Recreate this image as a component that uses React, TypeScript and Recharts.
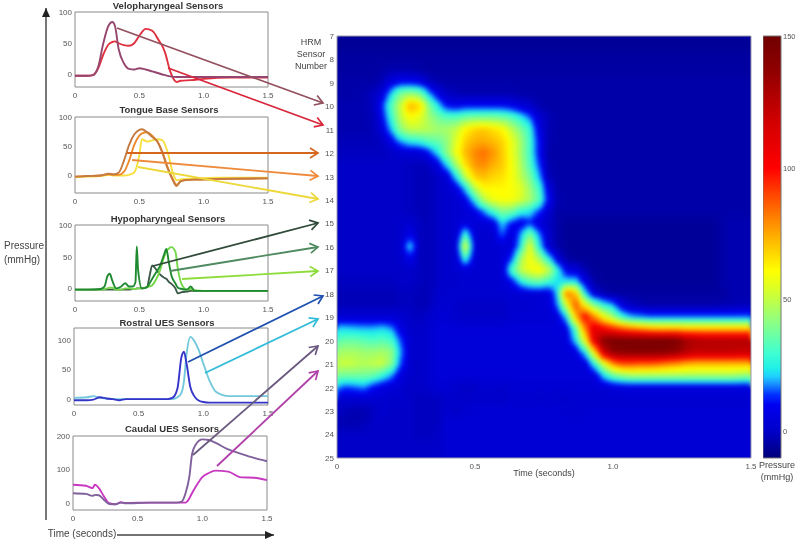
import React from 'react';
import { LineChart, Line, XAxis, YAxis, ReferenceArea, ScatterChart, Scatter } from 'recharts';

const FONT = '"Liberation Sans", Arial, sans-serif';
const timeTicks = [0, 0.5, 1, 1.5];
const timeLabels: Record<number, string> = { 0: '0', 0.5: '0.5', 1: '1.0', 1.5: '1.5' };

// velopharyngeal sensors
const veloTime = [0, 0.1, 0.14, 0.18, 0.22, 0.26, 0.29, 0.31, 0.34, 0.38, 0.42, 0.46, 0.5, 0.55, 0.6, 0.65, 0.68, 0.7, 0.74, 0.79, 0.82, 0.9, 1.0, 1.2, 1.5];
const sensor10 = [-2, -2, -1, 12, 50, 78, 84, 78, 40, 18, 9, 8, 10, 8, 5, 2, 0, -1, -3, -4, -4, -4, -4, -4, -4];
const sensor11 = [-2, -2, -1, 10, 32, 48, 52, 53, 50, 47, 46, 50, 62, 73, 70, 55, 45, 35, 5, -12, -10, -9, -7, -5, -5];

// tongue base sensors
const tongueTime = [0, 0.1, 0.2, 0.26, 0.3, 0.34, 0.38, 0.42, 0.46, 0.5, 0.52, 0.56, 0.6, 0.64, 0.68, 0.72, 0.76, 0.79, 0.82, 0.86, 0.95, 1.1, 1.5];
const sensor12 = [-2, -1, 0, 3, 2, 5, 25, 52, 70, 78, 79, 74, 66, 58, 38, 12, -8, -18, -10, -8, -7, -6, -5];
const sensor13 = [-2, -1, 0, 2, 1, 1, 6, 25, 52, 68, 72, 74, 68, 58, 40, 14, -6, -16, -10, -8, -7, -6, -5];
const sensor14 = [-3, -2, -1, 1, 0, 0, 0, 1, 5, 35, 62, 58, 60, 62, 60, 40, 5, -8, -7, -6, -5, -4, -4];

// hypopharyngeal sensors
const hypoTime = [0, 0.1, 0.2, 0.23, 0.25, 0.27, 0.29, 0.32, 0.36, 0.39, 0.42, 0.45, 0.47, 0.48, 0.49, 0.52, 0.56, 0.58, 0.6, 0.63, 0.66, 0.69, 0.71, 0.73, 0.75, 0.78, 0.8, 0.83, 0.87, 0.9, 0.93, 1, 1.5];
const sensor15 = [-2, -2, -2, -2, -2, -2, -2, -2, -2, -2, -2, -1, -1, 0, 0, 0, 2, 20, 36, 30, 22, 17, 15, 10, 7, 0, -8, -6, -5, -4, -4, -4, -4];
const sensor16 = [-2, -2, -1, 3, 18, 23, 12, 0, 3, 8, 3, 3, 10, 66, 30, 0, 2, 8, 15, 25, 35, 52, 62, 40, 20, 8, 1, -1, -2, 3, -4, -4, -4];
const sensor17 = [-2, -2, -2, -1, 0, 1, 1, -2, -2, 0, 0, -1, -1, 0, 0, 0, 2, 3, 5, 14, 28, 48, 58, 63, 65, 58, 30, 6, -2, -1, -3, -4, -4];

// rostral UES sensors
const rostralTime = [0, 0.1, 0.15, 0.2, 0.25, 0.3, 0.35, 0.4, 0.6, 0.72, 0.76, 0.8, 0.83, 0.85, 0.87, 0.9, 0.93, 0.96, 1, 1.05, 1.1, 1.2, 1.5];
const sensor18 = [-2, -2, -1, 3, 1, 0, -2, 0, 0, 0, 2, 18, 70, 80, 60, 20, 5, -2, -5, -6, -6, -6, -6];
const sensor19 = [2, 3, 5, 2, 1, 0, 0, 0, 0, 0, 0, 3, 10, 30, 75, 105, 98, 85, 60, 30, 12, 5, 5];

// caudal UES sensors
const caudalTime = [0, 0.1, 0.15, 0.17, 0.2, 0.24, 0.28, 0.33, 0.37, 0.4, 0.6, 0.8, 0.84, 0.87, 0.9, 0.92, 0.95, 1, 1.05, 1.1, 1.2, 1.3, 1.4, 1.5];
const sensor20 = [30, 28, 22, 25, 24, 10, -2, -3, 2, 0, 2, 2, 5, 30, 80, 145, 175, 190, 188, 180, 160, 147, 135, 125];
const sensor21 = [55, 52, 45, 55, 45, 20, 0, -3, 3, 1, 2, 2, 2, 2, 15, 30, 50, 78, 90, 97, 94, 77, 76, 69];

const panels = [
  { title: 'Velopharyngeal Sensors', titleX: 168, titleY: 9, left: 75, top: 12, width: 193, height: 75, domain: [-20, 100], ticks: [0, 50, 100], time: veloTime,
    series: [{ v: sensor11, c: '#e0303f' }, { v: sensor10, c: '#96466e' }] },
  { title: 'Tongue Base Sensors', titleX: 169, titleY: 113, left: 75, top: 117, width: 193, height: 76, domain: [-30, 100], ticks: [0, 50, 100], time: tongueTime,
    series: [{ v: sensor14, c: '#f6e040' }, { v: sensor13, c: '#ee8a2c' }, { v: sensor12, c: '#c47a40' }] },
  { title: 'Hypopharyngeal Sensors', titleX: 168, titleY: 222, left: 75, top: 225, width: 193, height: 76, domain: [-20, 100], ticks: [0, 50, 100], time: hypoTime,
    series: [{ v: sensor15, c: '#3d5a48' }, { v: sensor17, c: '#74d84a' }, { v: sensor16, c: '#1f8a30' }] },
  { title: 'Rostral UES Sensors', titleX: 167, titleY: 326, left: 74, top: 328, width: 194, height: 77, domain: [-10, 120], ticks: [0, 50, 100], time: rostralTime,
    series: [{ v: sensor19, c: '#74c8dc' }, { v: sensor18, c: '#3434c8' }] },
  { title: 'Caudal UES Sensors', titleX: 172, titleY: 432, left: 73, top: 436, width: 194, height: 74, domain: [-20, 200], ticks: [0, 100, 200], time: caudalTime,
    series: [{ v: sensor21, c: '#c838c0' }, { v: sensor20, c: '#80609c' }] },
];

// arrows from the traces to the sensor numbers
const arrows = [
  { from: [117, 28], to: [323, 103], c: '#93505f' },
  { from: [168, 68], to: [323, 125], c: '#d8263a' },
  { from: [127, 153], to: [318, 153], c: '#d4661e' },
  { from: [132, 160], to: [318, 176], c: '#ee8a3c' },
  { from: [138, 167], to: [318, 199], c: '#ecd83a' },
  { from: [153, 266], to: [318, 223], c: '#2f4a38' },
  { from: [170, 271], to: [318, 247], c: '#4f8a60' },
  { from: [182, 279], to: [318, 271], c: '#8edc3c' },
  { from: [188, 362], to: [323, 296], c: '#2050b0' },
  { from: [205, 373], to: [318, 319], c: '#30bcd8' },
  { from: [193, 455], to: [318, 346], c: '#6a5a80' },
  { from: [217, 466], to: [318, 371], c: '#b040a8' },
];

const sensorTicks = [7, 8, 9, 10, 11, 12, 13, 14, 15, 16, 17, 18, 19, 20, 21, 22, 23, 24, 25];
const barTicks = [0, 50, 100, 150];

const colorStops: [number, string][] = [
  [-10, '#00007a'], [0, '#0000c8'], [10, '#0000f0'], [14, '#0030ff'], [18, '#1890ff'], [21, '#20d0ff'], [24, '#20f0e8'],
  [30, '#40ffd0'], [42, '#90ff80'], [55, '#e0ff20'], [61, '#ffff00'], [70, '#ffc800'], [80, '#ff8800'],
  [93, '#ff3000'], [100, '#ff0000'], [118, '#d00000'], [137, '#900000'], [150, '#700000'],
];

// sensor positions of the pressure rows, one value every 1/30 s in each row
const heatSensors = [7, 7.5, 8, 8.5, 9, 9.5, 10, 10.5, 11, 11.5, 12, 12.5, 13, 13.5, 14, 14.5, 15, 15.5, 16, 16.5, 17, 17.5, 18, 18.5, 19, 19.5, 20, 20.5, 21, 21.5, 22, 22.5, 23, 23.5, 24, 24.5, 25];
const heatRows = [
  [-6, -6, -6, -6, -6, -6, -6, -6, -6, -6, -6, -6, -6, -6, -6, -6, -6, -6, -6, -6, -6, -6, -6, -6, -6, -6, -6, -6, -6, -6, -6, -6, -6, -6, -6, -6, -6, -6, -6, -6, -6, -6, -6, -6, -6, -6],
  [-6, -6, -6, -6, -6, -6, -6, -6, -6, -6, -6, -6, -6, -6, -6, -6, -6, -6, -6, -6, -6, -6, -6, -6, -6, -6, -6, -6, -6, -6, -6, -6, -6, -6, -6, -6, -6, -6, -6, -6, -6, -6, -6, -6, -6, -6],
  [-5, -5, -5, -5, -5, -5, -5, -5, -5, -5, -5, -5, -5, -5, -5, -5, -5, -5, -5, -5, -5, -5, -5, -5, -5, -5, -5, -5, -5, -5, -5, -5, -5, -5, -5, -5, -5, -5, -5, -5, -5, -5, -5, -5, -5, -5],
  [-5, -5, -5, -5, -5, -4, -3, -3, -3, -4, -5, -5, -5, -5, -5, -5, -5, -5, -5, -5, -5, -5, -5, -5, -5, -5, -5, -5, -5, -5, -5, -5, -5, -5, -5, -5, -5, -5, -5, -5, -5, -5, -5, -5, -5, -5],
  [-4, -4, -4, -4, -4, -2, 6, 10, 10, 8, 0, -3, -4, -4, -4, -4, -4, -4, -4, -4, -4, -4, -4, -4, -4, -4, -4, -4, -4, -4, -4, -4, -4, -4, -4, -4, -4, -4, -4, -4, -4, -4, -4, -4, -4, -4],
  [-4, -4, -4, -3, -1, 4, 24, 40, 44, 40, 22, 6, 0, -2, -3, -3, -3, -3, -3, -3, -4, -4, -4, -4, -4, -4, -4, -4, -4, -4, -4, -4, -4, -4, -4, -4, -4, -4, -4, -4, -4, -4, -4, -4, -4, -4],
  [-3, -3, -3, -3, -1, 12, 34, 52, 74, 68, 42, 24, 10, 8, 10, 10, 10, 10, 10, 8, 4, 1, -3, -4, -4, -4, -4, -4, -4, -4, -4, -4, -4, -4, -4, -4, -4, -4, -4, -4, -4, -4, -4, -4, -4, -4],
  [-3, -3, -3, -3, -2, 8, 30, 50, 60, 56, 46, 38, 34, 34, 38, 40, 40, 40, 38, 34, 26, 16, 3, -2, -4, -4, -4, -4, -4, -4, -4, -4, -4, -4, -4, -4, -4, -4, -4, -4, -4, -4, -4, -4, -4, -4],
  [-3, -3, -3, -3, -2, 4, 22, 42, 50, 50, 48, 45, 46, 50, 62, 68, 70, 66, 62, 50, 40, 28, 6, -3, -4, -4, -4, -4, -4, -4, -4, -4, -4, -4, -4, -4, -4, -4, -4, -4, -4, -4, -4, -4, -4, -4],
  [-2, -2, -2, -2, -2, -1, 8, 20, 26, 28, 34, 36, 42, 55, 68, 74, 74, 72, 68, 58, 46, 30, 10, -3, -4, -4, -4, -4, -4, -4, -4, -4, -4, -4, -4, -4, -4, -4, -4, -4, -4, -4, -4, -4, -4, -4],
  [-1, -1, -1, -1, -1, -1, 0, 2, 3, 3, 10, 24, 42, 58, 72, 80, 84, 78, 70, 58, 46, 30, 10, -4, -4, -4, -4, -4, -4, -4, -4, -4, -4, -4, -4, -4, -4, -4, -4, -4, -4, -4, -4, -4, -4, -4],
  [0, 0, 0, 0, 0, 0, 0, 0, -1, -2, -1, 6, 24, 46, 66, 78, 80, 74, 70, 60, 48, 32, 14, -3, -4, -4, -4, -4, -4, -4, -4, -4, -4, -4, -4, -4, -4, -4, -4, -4, -4, -4, -4, -4, -4, -4],
  [0, 0, 0, 0, 0, 0, 0, 0, -1, -2, -2, 0, 4, 24, 50, 70, 72, 68, 66, 60, 50, 38, 20, -2, -4, -4, -4, -4, -4, -4, -4, -4, -4, -4, -4, -4, -4, -4, -4, -4, -4, -4, -4, -4, -4, -4],
  [0, 0, 0, 0, 0, 0, 0, 0, -1, -2, -2, 0, 1, 6, 22, 50, 62, 62, 62, 60, 56, 44, 30, 6, -4, -4, -4, -4, -4, -4, -4, -4, -4, -4, -4, -4, -4, -4, -4, -4, -4, -4, -4, -4, -4, -4],
  [0, 0, 0, 0, 0, 0, 0, 0, -1, -2, -2, 0, 1, 2, 6, 26, 48, 58, 60, 60, 54, 46, 34, 10, -3, -4, -4, -4, -4, -4, -4, -4, -4, -4, -4, -4, -4, -4, -4, -4, -4, -4, -4, -4, -4, -4],
  [0, 0, 0, 0, 0, 0, 0, 0, -1, -2, -2, 0, 1, 2, 3, 6, 18, 30, 40, 38, 28, 24, 14, 2, -4, -4, -4, -4, -4, -4, -4, -4, -4, -4, -4, -4, -4, -4, -4, -4, -4, -4, -4, -4, -4, -4],
  [0, 0, 0, 0, 0, 0, 0, 1, 2, -1, -2, 0, 1, 2, 5, 3, 3, 6, 22, 12, 6, 12, 4, 0, -4, -6, -6, -6, -6, -6, -6, -6, -6, -6, -6, -6, -6, -6, -6, -6, -6, -6, -4, -3, -3, -3],
  [0, 0, 0, 0, 0, 0, 0, 1, 8, -1, -2, 0, 1, 2, 30, 3, 2, 2, 16, 3, 18, 40, 18, 1, -4, -6, -6, -6, -6, -6, -6, -6, -6, -6, -6, -6, -6, -6, -6, -6, -6, -6, -4, -3, -3, -3],
  [0, 0, 0, 0, 0, 0, 0, 2, 24, -1, -2, 0, 1, 2, 58, 3, 2, 2, 3, 3, 24, 58, 26, 3, -4, -6, -6, -6, -6, -6, -6, -6, -6, -6, -6, -6, -6, -6, -6, -6, -6, -6, -4, -3, -3, -3],
  [0, 0, 0, 0, 0, 0, 0, 1, 8, -1, -2, 0, 1, 2, 30, 3, 2, 2, 3, 12, 44, 60, 46, 26, 4, -5, -6, -6, -6, -6, -6, -6, -6, -6, -6, -6, -6, -6, -6, -6, -6, -6, -4, -3, -3, -3],
  [0, 0, 0, 0, 0, 0, 0, 0, 1, -1, -2, 0, 1, 2, 3, 3, 2, 2, 3, 30, 50, 58, 62, 52, 28, 6, 4, -3, -6, -6, -6, -6, -6, -6, -6, -6, -6, -6, -6, -6, -6, -6, -4, -3, -3, -3],
  [-1, -1, -1, -1, -1, -1, -1, 0, 0, -1, -2, 0, 1, 1, 2, 2, 2, 2, 3, 8, 24, 34, 36, 30, 22, 24, 24, 6, -4, -6, -6, -6, -6, -6, -6, -6, -6, -6, -6, -6, -6, -6, -4, -3, -3, -3],
  [-2, -2, -2, -2, -2, -2, -2, -1, -1, -2, -2, 1, 2, 2, 2, 2, 2, 2, 2, 3, 3, 3, 3, 4, 22, 85, 70, 24, 3, -3, -5, -5, -5, -5, -5, -5, -5, -5, -5, -5, -5, -5, -5, -3, -3, -3],
  [-2, -2, -2, -2, -2, -2, -2, -1, -1, -2, -2, 2, 2, 1, 0, 0, 0, 0, 0, 2, 2, 2, 3, 3, 16, 55, 90, 60, 40, 28, 20, 4, -1, -3, -4, -4, -4, -4, -4, -4, -4, -4, -3, -3, -2, -2],
  [3, 3, 3, 3, 3, 3, 3, 2, 0, -1, 1, 3, 3, 1, 0, 0, 0, 0, 0, 2, 3, 3, 3, 3, 4, 24, 72, 102, 80, 60, 45, 28, 20, 18, 16, 16, 16, 16, 16, 16, 16, 16, 16, 16, 16, 16],
  [22, 22, 21, 20, 20, 22, 18, 6, 1, 0, 2, 4, 4, 4, 4, 4, 4, 4, 4, 4, 4, 4, 4, 4, 4, 6, 34, 80, 112, 104, 95, 88, 82, 78, 74, 72, 72, 72, 70, 70, 70, 70, 70, 70, 70, 70],
  [34, 36, 36, 34, 32, 34, 30, 14, 2, 0, 2, 4, 4, 4, 4, 4, 4, 4, 4, 4, 4, 4, 4, 4, 4, 4, 24, 58, 110, 140, 146, 146, 146, 146, 146, 146, 146, 144, 132, 128, 126, 126, 126, 126, 126, 126],
  [44, 46, 46, 44, 44, 46, 42, 18, 2, 0, 2, 4, 4, 4, 4, 4, 4, 4, 4, 4, 4, 4, 4, 4, 4, 4, 5, 24, 62, 116, 138, 140, 142, 142, 142, 142, 140, 136, 126, 122, 122, 122, 122, 122, 120, 120],
  [50, 52, 50, 48, 50, 52, 40, 14, 1, 0, 2, 4, 4, 4, 4, 4, 4, 4, 4, 4, 4, 4, 4, 4, 4, 4, 4, 4, 26, 52, 78, 88, 88, 86, 86, 84, 80, 78, 74, 72, 72, 72, 72, 72, 72, 72],
  [38, 38, 38, 38, 36, 28, 18, 5, 1, 0, 2, 4, 4, 4, 4, 4, 4, 4, 4, 4, 4, 4, 4, 4, 4, 4, 4, 4, 4, 22, 36, 42, 46, 46, 46, 46, 46, 46, 46, 46, 46, 46, 46, 46, 44, 42],
  [20, 14, 16, 18, 10, 6, 4, 2, 0, 0, 1, 3, 3, 1, 0, 0, 2, 2, 1, 2, 3, 3, 3, 3, 3, 3, 3, 3, 3, 3, 4, 5, 5, 5, 5, 5, 5, 5, 5, 5, 5, 5, 5, 5, 5, 5],
  [2, 2, 2, 2, 2, 2, 1, 1, 0, -1, -1, -1, 1, 1, 0, 1, 1, 1, 0, 2, 2, 2, 1, 2, 1, 1, 2, 2, 2, 2, 2, 2, 2, 2, 2, 2, 2, 2, 2, 2, 2, 2, 2, 2, 2, 2],
  [0, -2, -3, -3, -1, 2, 0, 0, 0, -1, -1, -1, 2, 0, 2, 3, 3, 3, 3, 3, 3, 3, 3, 3, 3, 2, 2, 2, 3, 3, 3, 3, 3, 3, 3, 3, 3, 3, 3, 3, 3, 3, 3, 3, 3, 3],
  [-2, -3, -3, -2, 0, 0, 0, 0, 0, -1, -1, -1, 3, 3, 3, 3, 3, 3, 3, 3, 3, 3, 3, 3, 3, 3, 3, 3, 3, 3, 3, 3, 3, 3, 3, 3, 3, 3, 3, 3, 3, 3, 3, 3, 3, 3],
  [0, 0, 0, 0, 0, 0, 0, 0, 0, -1, -1, 0, 3, 3, 3, 3, 3, 3, 3, 3, 3, 3, 3, 3, 3, 3, 3, 3, 3, 3, 3, 3, 3, 3, 3, 3, 3, 3, 3, 3, 3, 3, 3, 3, 3, 3],
  [0, 0, 0, 0, 0, 0, 0, 0, 0, 0, 0, 0, 3, 3, 3, 3, 3, 3, 3, 3, 3, 3, 3, 3, 3, 3, 3, 3, 3, 3, 3, 3, 3, 3, 3, 3, 3, 3, 3, 3, 3, 3, 3, 3, 3, 3],
  [0, 0, 0, 0, 0, 0, 0, 0, 0, 0, 0, 0, 3, 3, 3, 3, 3, 3, 3, 3, 3, 3, 3, 3, 3, 3, 3, 3, 3, 3, 3, 3, 3, 3, 3, 3, 3, 3, 3, 3, 3, 3, 3, 3, 3, 3],
];

const heatPoints = heatRows.flatMap((row, r) => row.map((p, i) => ({ t: i / 30, s: heatSensors[r], p, r, i })));

const hexToRgb = (h: string) => [1, 3, 5].map((i) => parseInt(h.slice(i, i + 2), 16));
function pressureColor(p: number) {
  for (let k = 1; k < colorStops.length; k++) {
    if (p <= colorStops[k][0]) {
      const [p0, c0] = colorStops[k - 1];
      const [p1, c1] = colorStops[k];
      const f = Math.max(0, (p - p0) / (p1 - p0));
      const a = hexToRgb(c0);
      const b = hexToRgb(c1);
      return `rgb(${a.map((v, j) => Math.round(v + (b[j] - v) * f)).join(',')})`;
    }
  }
  return colorStops[colorStops.length - 1][1];
}

const HEAT_W = 414;
const HEAT_H = 422;
const PAD = 12;
const CELL_W = HEAT_W / 45;
const CELL_H = HEAT_H / 36;
const SHADE_STEPS = 5;

// shaded like the filled contours: colour runs between a sample and its neighbours,
// border samples run on past the plot so the blur does not fade at the edge
function HeatCell({ cx, cy, payload }: any) {
  const { r, i, p } = payload;
  const rects: React.ReactNode[] = [];
  const add = (x: number, y: number, w: number, h: number, v: number, key: string) =>
    rects.push(<rect key={key} x={Math.floor(x)} y={Math.floor(y)} width={Math.ceil(w) + 1} height={Math.ceil(h) + 1} fill={pressureColor(v)} shapeRendering="crispEdges" />);
  if (i === 0) add(cx - PAD, cy, PAD, CELL_H, p, 'l');
  if (i === 45) add(cx, cy, PAD, CELL_H, p, 'r');
  if (r === 0) add(cx, cy - PAD, CELL_W, PAD, p, 't');
  if (r === 36) add(cx, cy, CELL_W, PAD, p, 'b');
  if (i < 45 && r < 36) {
    const p10 = heatRows[r][i + 1];
    const p01 = heatRows[r + 1][i];
    const p11 = heatRows[r + 1][i + 1];
    if (p === p10 && p === p01 && p === p11) {
      add(cx, cy, CELL_W, CELL_H, p, 'c');
    } else {
      const sw = CELL_W / SHADE_STEPS;
      const sh = CELL_H / SHADE_STEPS;
      for (let a = 0; a < SHADE_STEPS; a++) {
        for (let b = 0; b < SHADE_STEPS; b++) {
          const u = (a + 0.5) / SHADE_STEPS;
          const w = (b + 0.5) / SHADE_STEPS;
          const v = p * (1 - u) * (1 - w) + p10 * u * (1 - w) + p01 * (1 - u) * w + p11 * u * w;
          add(cx + a * sw, cy + b * sh, sw, sh, v, `${a}-${b}`);
        }
      }
    }
  }
  return <g>{rects}</g>;
}

const NoMark = () => <g />;
const tickStyle = { fontSize: 8, fill: '#555', fontFamily: FONT };

function SensorPanel({ panel }: { panel: (typeof panels)[number] }) {
  const rows = panel.time.map((t, i) => {
    const row: Record<string, number> = { t };
    panel.series.forEach((s, k) => {
      row[`s${k}`] = s.v[i];
    });
    return row;
  });
  return (
    <div style={{ position: 'absolute', left: panel.left - 30, top: panel.top - 6 }}>
      <LineChart width={panel.width + 40} height={panel.height + 22} data={rows} margin={{ top: 6, right: 10, bottom: 0, left: 0 }}>
        <XAxis dataKey="t" type="number" domain={[0, 1.5]} ticks={timeTicks} tickFormatter={(v) => timeLabels[v]} interval={0} height={16} axisLine={false} tickLine={false} tickSize={0} tickMargin={5} tick={tickStyle} />
        <YAxis type="number" domain={panel.domain} ticks={panel.ticks} interval={0} width={30} axisLine={false} tickLine={false} tickSize={0} tickMargin={3} tick={tickStyle} allowDataOverflow />
        <ReferenceArea x1={0} x2={1.5} y1={panel.domain[0]} y2={panel.domain[1]} fill="none" stroke="#8a8a8a" strokeWidth={1} />
        {panel.series.map((s, k) => (
          <Line key={k} type="monotone" dataKey={`s${k}`} stroke={s.c} strokeWidth={1.9} dot={false} isAnimationActive={false} />
        ))}
      </LineChart>
    </div>
  );
}

export default function App() {
  return (
    <div style={{ position: 'absolute', left: 0, top: 0, width: 800, height: 544, overflow: 'hidden', background: '#fff', filter: 'blur(0.45px)', fontFamily: FONT }}>
      {panels.map((p) => (
        <SensorPanel key={p.title} panel={p} />
      ))}

      <div style={{ position: 'absolute', left: 337, top: 36, width: HEAT_W, height: HEAT_H, overflow: 'hidden' }}>
        <div style={{ position: 'absolute', left: -PAD, top: -PAD, filter: 'blur(2px)' }}>
          <ScatterChart width={HEAT_W + 2 * PAD} height={HEAT_H + 2 * PAD} margin={{ top: PAD, right: PAD, bottom: PAD, left: PAD }}>
            <XAxis dataKey="t" type="number" domain={[0, 1.5]} hide />
            <YAxis dataKey="s" type="number" domain={[7, 25]} reversed hide />
            <Scatter data={heatPoints} shape={HeatCell} isAnimationActive={false} />
          </ScatterChart>
        </div>
      </div>

      {/* axes of the heat map */}
      <div style={{ position: 'absolute', left: 307, top: 26 }}>
        <ScatterChart width={454} height={456} margin={{ top: 10, right: 10, bottom: 0, left: 0 }}>
          <XAxis dataKey="t" type="number" domain={[0, 1.5]} ticks={timeTicks} tickFormatter={(v) => timeLabels[v]} interval={0} height={24} axisLine={false} tickLine={false} tickSize={0} tickMargin={5} tick={tickStyle} />
          <YAxis dataKey="s" type="number" domain={[7, 25]} reversed ticks={sensorTicks} interval={0} width={30} axisLine={false} tickLine={false} tickSize={0} tickMargin={3} tick={tickStyle} />
          <ReferenceArea x1={0} x2={1.5} y1={7} y2={25} fill="none" stroke="#9a9ab0" strokeWidth={1} />
          <Scatter data={heatPoints.slice(0, 1)} shape={NoMark} isAnimationActive={false} />
        </ScatterChart>
      </div>

      {/* colour bar */}
      <div style={{ position: 'absolute', left: 763, top: 26 }}>
        <ScatterChart width={37} height={442} margin={{ top: 10, right: 0, bottom: 10, left: 0 }}>
          <defs>
            <linearGradient id="jet" x1="0" y1="1" x2="0" y2="0">
              {colorStops.map(([p, c]) => (
                <stop key={p} offset={(p + 10) / 160} stopColor={c} />
              ))}
            </linearGradient>
          </defs>
          <XAxis dataKey="t" type="number" domain={[0, 1]} hide />
          <YAxis dataKey="p" type="number" orientation="right" domain={[-10, 150]} ticks={barTicks} interval={0} width={19} axisLine={false} tickLine={false} tickSize={0} tickMargin={2} tick={{ ...tickStyle, fontSize: 7.5 }} />
          <ReferenceArea x1={0} x2={1} y1={-10} y2={150} fill="url(#jet)" fillOpacity={1} stroke="#777" strokeWidth={1} />
          <Scatter data={[{ t: 0, p: 0 }]} shape={NoMark} isAnimationActive={false} />
        </ScatterChart>
      </div>

      <svg width={800} height={544} style={{ position: 'absolute', left: 0, top: 0, pointerEvents: 'none' }}>
        <defs>
          {arrows.map((a, i) => (
            <marker key={i} id={`head${i}`} markerUnits="userSpaceOnUse" markerWidth={12} markerHeight={12} refX={9} refY={5} orient="auto" overflow="visible">
              <path d="M1,0 L9,5 L1,10" fill="none" stroke={a.c} strokeWidth={1.7} />
            </marker>
          ))}
          <marker id="axisHead" markerUnits="userSpaceOnUse" markerWidth={12} markerHeight={12} refX={9} refY={4} orient="auto" overflow="visible">
            <path d="M0,0 L9,4 L0,8 Z" fill="#222" />
          </marker>
        </defs>

        <line x1={46} y1={520} x2={46} y2={8} stroke="#555" strokeWidth={1.6} markerEnd="url(#axisHead)" />
        <line x1={117} y1={535} x2={274} y2={535} stroke="#444" strokeWidth={1.6} markerEnd="url(#axisHead)" />

        {arrows.map((a, i) => (
          <line key={i} x1={a.from[0]} y1={a.from[1]} x2={a.to[0]} y2={a.to[1]} stroke={a.c} strokeWidth={1.8} markerEnd={`url(#head${i})`} />
        ))}

        {panels.map((p) => (
          <text key={p.title} x={p.titleX} y={p.titleY} textAnchor="middle" fontSize={9.5} fontWeight="bold" fill="#333">
            {p.title}
          </text>
        ))}

        <g fontSize={10} fill="#444" textAnchor="middle">
          <text x={24} y={249}>Pressure</text>
          <text x={22} y={263}>(mmHg)</text>
          <text x={82} y={537}>Time (seconds)</text>
          <text x={544} y={476} fontSize={9}>Time (seconds)</text>
          <text x={311} y={45} fontSize={9}>HRM</text>
          <text x={311} y={57} fontSize={9}>Sensor</text>
          <text x={311} y={69} fontSize={9}>Number</text>
          <text x={777} y={468} fontSize={9}>Pressure</text>
          <text x={777} y={480} fontSize={9}>(mmHg)</text>
        </g>
      </svg>
    </div>
  );
}
